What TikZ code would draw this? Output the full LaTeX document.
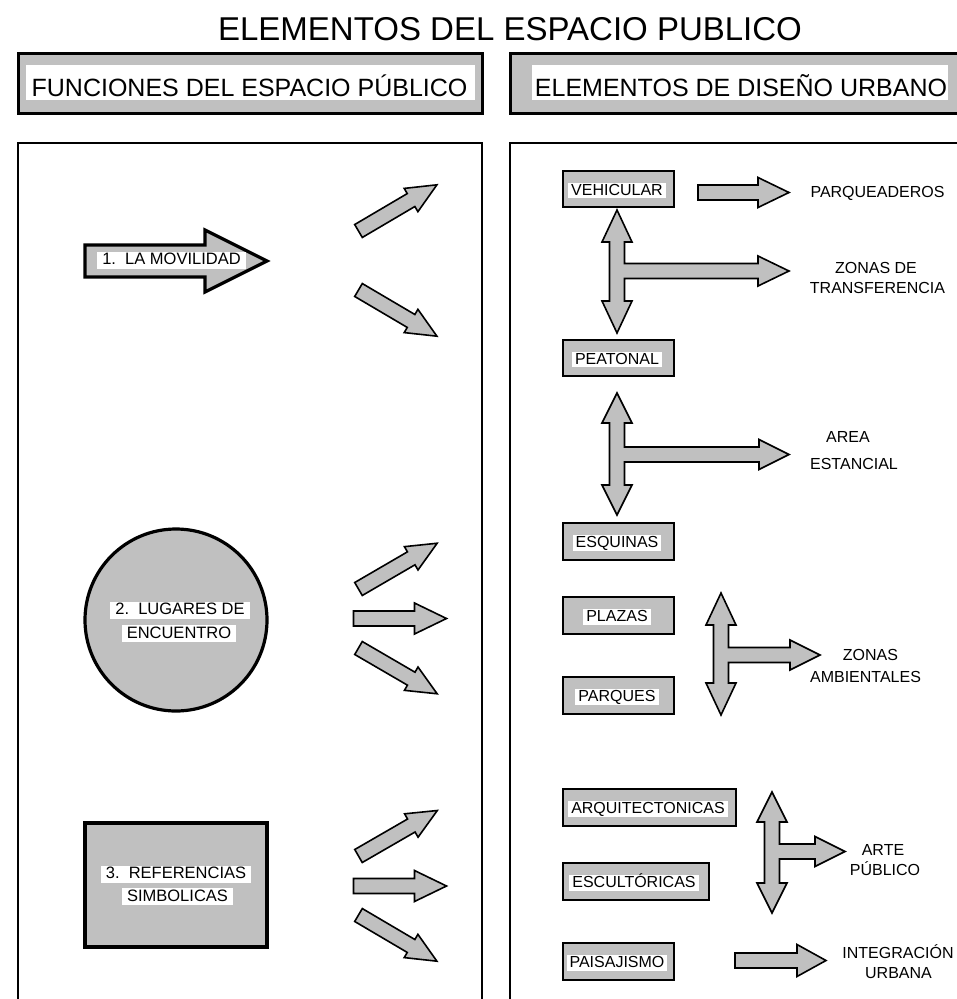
\documentclass[tikz,border=0pt]{standalone}
\usepackage{fontspec}
\setmainfont{Liberation Sans}
\definecolor{gfill}{RGB}{192,192,192}
\tikzset{
  panel/.style={draw, line width=2.5pt},
  hdrbox/.style={draw, fill=gfill, line width=3pt, inner sep=0pt, minimum height=60pt},
  wband/.style={fill=white, inner sep=0pt, minimum height=35pt},
  gbox/.style={draw, fill=gfill, line width=2pt, inner sep=0pt, minimum height=36.5pt, anchor=west},
  wtxt/.style={fill=white, inner xsep=3pt, inner ysep=0pt, text height=12.5pt, text depth=3pt, font=\fontsize{16}{19}\selectfont},
  wbig/.style={fill=white, inner xsep=5pt, inner ysep=0pt, text height=13pt, text depth=4pt, font=\fontsize{16.5}{19}\selectfont},
  lbl/.style={inner sep=0pt, text height=11.5pt, text depth=0pt, font=\fontsize{16}{19}\selectfont},
  barr/.style={draw, fill=gfill, line width=1.6pt, line join=miter},
  bigshape/.style={draw, fill=gfill, line width=3.2pt, line join=miter}
}
% straight block arrow: tail x, tail y, angle, length, head length, head half width
\newcommand{\blkarrow}[6]{%
  \begin{scope}[shift={(#1,#2)},rotate=#3]
    \draw[barr] (0,-7.5) -- ({#4-#5},-7.5) -- ({#4-#5},-#6) -- (#4,0) -- ({#4-#5},#6) -- ({#4-#5},7.5) -- (0,7.5) -- cycle;
  \end{scope}}
% vertical double arrow with a branch to the right: cx, top, bottom, head length, branch y, branch tip x, branch head length
\newcommand{\tarrow}[7]{%
  \draw[barr] (#1,#2) -- ({#1+15},{#2+#4}) -- ({#1+7.5},{#2+#4}) -- ({#1+7.5},{#5-7.5})
    -- ({#6-#7},{#5-7.5}) -- ({#6-#7},{#5-15}) -- (#6,#5) -- ({#6-#7},{#5+15}) -- ({#6-#7},{#5+7.5})
    -- ({#1+7.5},{#5+7.5}) -- ({#1+7.5},{#3-#4}) -- ({#1+15},{#3-#4}) -- (#1,#3)
    -- ({#1-15},{#3-#4}) -- ({#1-7.5},{#3-#4}) -- ({#1-7.5},{#2+#4}) -- ({#1-15},{#2+#4}) -- cycle;}
\begin{document}
\begin{tikzpicture}[x=1pt,y=-1pt]
\useasboundingbox (0,0) rectangle (957,999);
\clip (0,0) rectangle (957,999);

% title
\node[anchor=base, inner sep=0pt, font=\fontsize{33}{38}\selectfont] (title) at (510,40) {ELEMENTOS DEL ESPACIO PUBLICO};

% headers
\node[hdrbox, minimum width=464pt] (lhdr) at (250,83) {};
\node[wband, minimum width=449pt] (lband) at (250.5,82.5) {};
\node[anchor=base, inner sep=0pt, font=\fontsize{25}{30}\selectfont] (ltxt) at (249.5,96) {FUNCIONES DEL ESPACIO PÚBLICO};
\node[hdrbox, minimum width=460pt] (rhdr) at (740,83) {};
\node[wband, minimum width=416pt] (rband) at (740,82.5) {};
\node[anchor=base, inner sep=0pt, font=\fontsize{25}{30}\selectfont] (rtxt) at (741,96) {ELEMENTOS DE DISEÑO URBANO};

% panels
\draw[panel] (18,1010) -- (18,143) -- (482,143) -- (482,1010);
\draw[panel] (510,1010) -- (510,143) -- (975,143);

% ---- left panel ----
\draw[bigshape] (85,245) -- (205,245) -- (205,230) -- (267,261) -- (205,292) -- (205,277) -- (85,277) -- cycle;
\node[wbig, minimum width=147pt] (mov) at (171.5,260) {1.\ \ LA MOVILIDAD};
\blkarrow{358.5}{231}{30.5}{91}{30}{13.5}
\blkarrow{358.5}{290}{-30.5}{91}{30}{13.5}

\node[bigshape, circle, minimum size=182pt, inner sep=0pt] (lug) at (176,620) {};
\node[wbig, minimum width=136pt] (lug1) at (180,610) {2.\ \ LUGARES DE};
\node[wbig, minimum width=112pt] (lug2) at (179,633.5) {ENCUENTRO};
\blkarrow{358.5}{589}{30.2}{91}{30}{13.5}
\blkarrow{353.5}{618.5}{0}{93}{32}{15.5}
\blkarrow{358.5}{648}{-30.2}{91}{30}{13.5}

\node[bigshape, minimum width=182pt, minimum height=124pt, inner sep=0pt] (ref) at (176,885) {};
\node[wbig, minimum width=148pt] (ref1) at (176,874) {3.\ \ REFERENCIAS};
\node[wbig, minimum width=109pt] (ref2) at (177.5,896.5) {SIMBOLICAS};
\blkarrow{358.5}{856}{30}{91}{30}{13.5}
\blkarrow{353.5}{886}{0}{93}{32}{15.5}
\blkarrow{358.5}{915}{-30.5}{91}{30}{13.5}

% ---- right panel ----
\node[gbox, minimum width=111pt] (veh) at (562,189) {};
\node[wtxt] (veht) at (617,190.5) {VEHICULAR};
\node[gbox, minimum width=111pt] (pea) at (562,358) {};
\node[wtxt] (peat) at (617,359.5) {PEATONAL};
\node[gbox, minimum width=111pt] (esq) at (562,541.5) {};
\node[wtxt] (esqt) at (617,543) {ESQUINAS};
\node[gbox, minimum width=111pt] (pla) at (562,615.5) {};
\node[wtxt] (plat) at (617,617) {PLAZAS};
\node[gbox, minimum width=111pt] (par) at (562,695.5) {};
\node[wtxt] (part) at (617,697) {PARQUES};
\node[gbox, minimum width=173pt] (arq) at (562,807.5) {};
\node[wtxt] (arqt) at (648,809) {ARQUITECTONICAS};
\node[gbox, minimum width=146pt] (esc) at (562,881.5) {};
\node[wtxt] (esct) at (634,883) {ESCULTÓRICAS};
\node[gbox, minimum width=111pt] (pai) at (562,961.5) {};
\node[wtxt] (pait) at (617,963) {PAISAJISMO};

\blkarrow{698}{192.5}{0}{91}{31}{15}
\tarrow{617}{210}{333}{32}{271}{789}{31}
\tarrow{617}{393}{515}{30}{454.5}{789}{30}
\tarrow{721}{593}{715}{32}{655}{820}{30}
\tarrow{772}{792}{913}{30}{851.5}{845}{30}
\blkarrow{735}{960.5}{0}{91}{29}{16}

\node[lbl] (lparq) at (877.5,191.5) {PARQUEADEROS};
\node[lbl] (lzt1) at (876,268) {ZONAS DE};
\node[lbl] (lzt2) at (877.5,288) {TRANSFERENCIA};
\node[lbl] (lae1) at (848,437) {AREA};
\node[lbl] (lae2) at (854,464) {ESTANCIAL};
\node[lbl] (lza1) at (870.5,655) {ZONAS};
\node[lbl] (lza2) at (865.5,677) {AMBIENTALES};
\node[lbl] (lap1) at (883,850) {ARTE};
\node[lbl] (lap2) at (885,870) {PÚBLICO};
\node[lbl] (liu1) at (898,952.7) {INTEGRACIÓN};
\node[lbl] (liu2) at (898.5,972.7) {URBANA};
\end{tikzpicture}
\end{document}
